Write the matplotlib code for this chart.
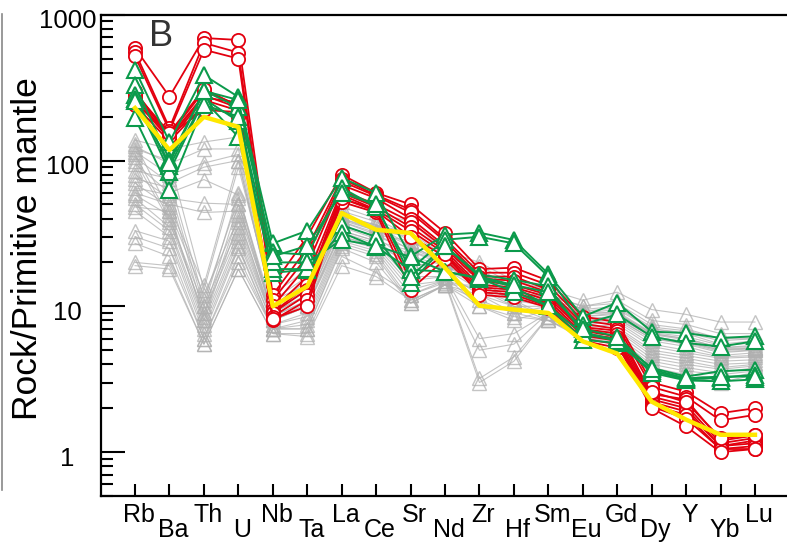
import numpy as np
import matplotlib
matplotlib.use('Agg')
import matplotlib.pyplot as plt
from matplotlib.lines import Line2D
from matplotlib.ticker import FixedLocator, NullFormatter
from matplotlib.transforms import ScaledTranslation

elements = ['Rb', 'Ba', 'Th', 'U', 'Nb', 'Ta', 'La', 'Ce', 'Sr', 'Nd',
            'Zr', 'Hf', 'Sm', 'Eu', 'Gd', 'Dy', 'Y', 'Yb', 'Lu']

# red circles
red_samples = [
    [590, 274, 692, 671, 14, 30, 80, 60, 50, 32, 18, 18.4, 15, 8.5, 7.8, 3.0, 2.6, 1.85, 2.0],
    [555, 167, 640, 550, 12, 25, 75, 58, 46, 29, 17, 17, 14, 8, 7.4, 2.8, 2.4, 1.65, 1.8],
    [520, 160, 575, 500, 11, 22, 72, 57, 44, 28, 16, 16, 13, 7.6, 7, 2.5, 2.3, 1.2, 1.3],
    [280, 150, 300, 240, 10, 19, 68, 55, 40, 26, 15.5, 15, 12.5, 7.2, 6.8, 2.4, 2.1, 1.15, 1.25],
    [270, 145, 280, 230, 9.5, 16, 62, 50, 38, 25, 15, 14, 12, 7, 6.5, 2.3, 2.0, 1.1, 1.2],
    [260, 140, 260, 220, 9, 14, 60, 48, 35, 24, 14, 13.5, 11.5, 6.8, 6.2, 2.2, 1.9, 1.1, 1.15],
    [250, 150, 222, 215, 9, 13, 58, 46, 33, 23, 13.5, 13, 11, 6.5, 6, 2.1, 1.8, 1.05, 1.1],
    [240, 135, 240, 200, 8.5, 12, 55, 45, 30, 22, 13, 12.5, 10.5, 6.3, 5.8, 2.05, 1.7, 1.05, 1.05],
    [300, 145, 270, 250, 8, 11, 52, 44, 13, 21, 12.5, 12, 10, 6, 5.5, 2.0, 1.5, 1.0, 1.05],
    [290, 155, 310, 235, 8.2, 10, 55, 46, 15, 23, 12, 11.5, 9.8, 5.8, 5.2, 2.6, 2.2, 1.25, 1.3],
]

# green triangles
green_samples = [
    [420, 134, 385, 273, 27, 33, 76, 60, 22, 31, 32, 28.5, 16.7, 8.5, 10.6, 6.7, 6.56, 6.07, 6.23],
    [330, 101, 301, 232, 23.4, 22.6, 65, 48, 18, 28.6, 30, 27, 16, 7.5, 8.8, 6.2, 5.6, 5.3, 5.76],
    [280, 91, 265, 186, 17, 17.8, 36, 30, 14.5, 25.8, 16.5, 15.2, 13.7, 6.6, 5.9, 3.78, 3.3, 3.59, 3.68],
    [265, 84, 260, 145, 18, 18, 32, 25.6, 17.8, 17.3, 15.7, 13.6, 10, 5.9, 5.6, 3.6, 3.15, 3.23, 3.4],
    [195, 63, 240, 200, 20, 20, 28.6, 26, 21.8, 17.3, 15.5, 12.6, 10, 6.5, 5.8, 3.5, 3.1, 3.06, 3.15],
    [255, 96, 300, 260, 22, 26, 60, 50, 16, 26, 16, 14, 12.5, 7, 6.2, 3.7, 3.2, 3.3, 3.3],
]

# grey triangles
gray_samples = [
    [138, 120, 134, 145, 12, 18, 52, 44, 38, 24, 20, 15, 13, 11, 12.5, 9.5, 8.8, 7.8, 7.8],
    [125, 95, 120, 120, 11, 16, 48, 40, 30, 22, 18, 13, 12, 10, 11, 8, 7.5, 6.5, 6.5],
    [115, 80, 96, 110, 10, 15, 45, 38, 28, 21, 17, 12, 12, 9.5, 10, 7.2, 6.8, 6, 6],
    [105, 70, 90, 100, 10, 14, 42, 36, 26, 20, 16, 12, 11, 9, 9.5, 7, 6.5, 5.5, 5.8],
    [95, 60, 74, 58, 9.5, 13, 40, 34, 24, 20, 15, 11, 11, 8.5, 9, 6.5, 6, 5.2, 5.4],
    [80, 55, 51, 50, 9, 12, 38, 32, 22, 19, 14, 11, 10.5, 8.2, 8.5, 6.2, 5.7, 5, 5.2],
    [60, 50, 44, 45, 9, 12, 36, 30, 20, 18, 13, 10, 10, 8, 8.2, 6, 5.5, 4.8, 5],
    [130, 45, 12, 40, 8.5, 11, 35, 29, 18, 17, 12, 9, 10, 7.8, 8, 5.8, 5.3, 4.6, 4.8],
    [110, 40, 10, 35, 8, 10, 33, 28, 16, 16, 10, 8, 9.5, 7.5, 7.8, 5.5, 5, 4.5, 4.6],
    [100, 38, 9, 32, 8, 10, 32, 27, 15, 16, 6, 6.5, 9, 7.2, 7.5, 5.3, 4.8, 4.4, 4.5],
    [55, 35, 8, 30, 7.5, 9, 30, 26, 14, 15, 5, 5.5, 9, 7, 7.2, 5, 4.6, 4.2, 4.3],
    [50, 33, 7.5, 28, 7.5, 8.5, 29, 25, 13, 15, 3.2, 4.5, 8.5, 6.8, 7, 4.8, 4.4, 4, 4.1],
    [45, 30, 7, 26, 7, 8, 28, 24, 12, 14.5, 3.0, 4.2, 8.5, 6.5, 6.8, 4.6, 4.2, 3.8, 4],
    [33, 28, 6.5, 25, 7, 7.5, 27, 23, 11, 14, 10, 8.5, 8, 6.3, 6.5, 4.4, 4, 3.7, 3.9],
    [30, 25, 6, 22, 7, 7, 26, 22, 10.5, 14, 11, 9, 8, 6.2, 6.2, 4.2, 3.8, 3.5, 3.8],
    [27, 22, 6, 20, 7, 7, 25, 20, 10.5, 14, 12, 10, 8, 6, 6, 4, 3.6, 3.4, 3.6],
    [20, 19, 5.5, 18, 6.5, 6.5, 22, 17, 12, 15, 13, 10.5, 8.5, 6, 5.8, 3.8, 3.4, 3.2, 3.5],
    [19, 18, 5.5, 18, 6.5, 6.2, 19, 16, 11, 14, 14, 11, 8.5, 6.2, 6, 3.6, 3.3, 3, 3.4],
    [85, 75, 11, 55, 9, 13, 40, 33, 30, 22, 18, 13, 11, 9, 9, 6.5, 6, 5.2, 5.3],
    [75, 65, 10, 60, 8.5, 12, 38, 31, 28, 21, 17, 13, 11, 8.8, 9.2, 6.6, 6.2, 5.4, 5.6],
    [65, 58, 9, 50, 8.5, 11, 36, 30, 25, 20, 16, 12, 10.5, 8.5, 8.8, 6.4, 5.9, 5.1, 5.2],
    [58, 42, 8.5, 42, 8, 10.5, 33, 28, 24, 19, 15, 12, 10, 8.2, 8.5, 6.2, 5.7, 5, 5.1],
    [48, 45, 8, 38, 8, 10, 30, 26, 20, 18, 14, 11, 10, 8, 8.3, 6, 5.6, 4.9, 5],
    [120, 100, 13, 90, 11, 14, 42, 36, 32, 22, 19, 14, 12, 10, 10.5, 7.5, 7, 6, 6.2],
    [70, 48, 14, 100, 10, 13, 39, 33, 26, 20, 17, 12.5, 11.5, 9.2, 9.8, 7, 6.6, 5.8, 6],
]

# yellow average line
average = [229, 118, 199, 170, 10, 13.7, 43.6, 33.5, 31.8, 18.4, 10.1, 9.5, 9.0,
           5.75, 4.74, 2.22, 1.67, 1.315, 1.315]

plt.rcParams['font.family'] = ['Liberation Sans', 'DejaVu Sans']

fig = plt.figure(figsize=(7.87, 5.44), dpi=100)
ax = fig.add_axes([100.6 / 787, 48 / 544, 688.8 / 787, 481.3 / 544])
x = np.arange(len(elements))

for row in gray_samples:
    ax.plot(x, row, color='#b0b0b0', lw=0.8, alpha=0.75, marker='^', ms=10,
            mfc='none', mec='#b0b0b0', mew=1.0, zorder=1)
for row in red_samples:
    ax.plot(x, row, color='#e3000f', lw=1.3, marker='o', ms=9.5,
            mfc='white', mec='#e3000f', mew=1.3, zorder=2)
for row in green_samples:
    ax.plot(x, row, color='#0b9a4b', lw=1.4, marker='^', ms=11,
            mfc='white', mec='#0b9a4b', mew=1.5, zorder=3)
ax.plot(x, average, color='#ffe800', lw=3.2, zorder=4)

ax.set_yscale('log')
ax.set_ylim(0.5, 1000)
ax.set_xlim(-1, 19)

# x ticks: alternate rows of labels
ax.xaxis.set_major_locator(FixedLocator(x[::2]))
ax.xaxis.set_minor_locator(FixedLocator(x[1::2]))
ax.set_xticklabels(elements[::2])
ax.set_xticklabels(elements[1::2], minor=True)
ax.tick_params(axis='x', which='both', direction='in', length=8.6, width=1.5,
               labelsize=18)
ax.tick_params(axis='x', which='major', pad=5)
ax.tick_params(axis='x', which='minor', pad=16)

ax.set_yticks([1, 10, 100, 1000])
ax.set_yticklabels(['1', '10', '100', '1000'])
ax.yaxis.set_minor_formatter(NullFormatter())
ax.tick_params(axis='y', which='major', direction='in', length=17, width=1.5,
               labelsize=18.5, pad=24)
ax.tick_params(axis='y', which='minor', direction='in', length=8.5, width=1.5)
for lab in ax.get_yticklabels():
    lab.set_horizontalalignment('center')
    lab.set_transform(lab.get_transform() + ScaledTranslation(0, -4 / 100, fig.dpi_scale_trans))
for lab in ax.get_xticklabels() + ax.get_xticklabels(minor=True):
    lab.set_transform(lab.get_transform() + ScaledTranslation(4 / 100, 0, fig.dpi_scale_trans))

for side in ['left', 'bottom', 'top']:
    ax.spines[side].set_linewidth(1.6)
ax.spines['right'].set_visible(False)

ax.set_ylabel('Rock/Primitive mantle', fontsize=25.5)
ax.yaxis.set_label_coords(44 / 787, 1 - 249 / 544, transform=fig.transFigure)

ax.text(149 / 787, 1 - 37 / 544, 'B', transform=fig.transFigure, fontsize=26,
        color='#333333', va='center', ha='left')

fig.add_artist(Line2D([1.5 / 787, 1.5 / 787], [1 - 14 / 544, 1 - 490 / 544],
                      transform=fig.transFigure, color='#888888', lw=1.2))

fig.savefig('out.png', dpi=100)
